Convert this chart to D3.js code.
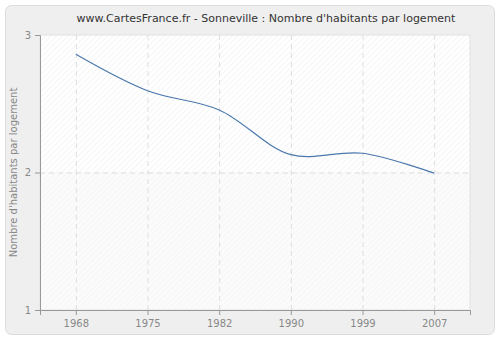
<!DOCTYPE html>
<html>
<head>
<meta charset="utf-8">
<script src="https://cdn.jsdelivr.net/npm/d3@7"></script>
<style>
  body { margin: 0; background: #fff; }
  text { font-family: "DejaVu Sans", Verdana, sans-serif; }
</style>
</head>
<body>
<div id="chart"></div>
<script>
// values
var years = ["1968", "1975", "1982", "1990", "1999", "2007"];
var habitants = [2.86, 2.595, 2.455, 2.13, 2.14, 1.995];
var yTicks = [1, 2, 3];

var W = 500, H = 340;
var margin = { top: 35, right: 30, bottom: 30, left: 40 };
var width = W - margin.left - margin.right,
    height = H - margin.top - margin.bottom;

var svg = d3.select("#chart")
    .append("svg")
    .attr("width", W)
    .attr("height", H);

// hatch patterns for the plot bands
var defs = svg.append("defs");
function hatch(id, bg, fg) {
    var pat = defs.append("pattern")
        .attr("id", id)
        .attr("patternUnits", "userSpaceOnUse")
        .attr("width", 4)
        .attr("height", 4)
        .attr("patternTransform", "rotate(45)");
    pat.append("rect").attr("width", 4).attr("height", 4).attr("fill", bg);
    pat.append("line")
        .attr("x1", 0).attr("y1", 0).attr("x2", 0).attr("y2", 4)
        .attr("stroke", fg)
        .attr("stroke-width", 1);
}
hatch("hatchA", "#ffffff", "#ebebeb");
hatch("hatchB", "#fbfbfb", "#f2f2f2");

// outer frame
svg.append("rect")
    .attr("x", 5.5).attr("y", 5.5)
    .attr("width", W - 11).attr("height", H - 11)
    .attr("rx", 6)
    .attr("fill", "#efefef")
    .attr("stroke", "#dcdcdc");

svg.append("text")
    .attr("x", 266)
    .attr("y", 22)
    .attr("text-anchor", "middle")
    .attr("font-size", 11)
    .attr("fill", "#333")
    .text("www.CartesFrance.fr - Sonneville : Nombre d'habitants par logement");

var g = svg.append("g")
    .attr("transform", "translate(" + margin.left + "," + margin.top + ")");

var x = d3.scalePoint()
    .domain(years)
    .range([0, width])
    .padding(0.5);

var y = d3.scaleLinear()
    .domain([1, 3])
    .range([height, 0]);

// bands between y ticks, alternating shade
g.selectAll(".band")
    .data(yTicks.slice(0, -1))
    .enter()
    .append("rect")
    .attr("x", 0)
    .attr("width", width)
    .attr("y", function(d, i) { return y(yTicks[i + 1]); })
    .attr("height", function(d, i) { return y(d) - y(yTicks[i + 1]); })
    .attr("fill", function(d, i) { return (yTicks.length - 2 - i) % 2 === 0 ? "url(#hatchA)" : "url(#hatchB)"; });

g.append("rect")
    .attr("width", width)
    .attr("height", height)
    .attr("fill", "none")
    .attr("stroke", "#e2e2e2");

// grid
g.selectAll(".vgrid")
    .data(years)
    .enter()
    .append("line")
    .attr("x1", function(d) { return x(d) + 0.5; })
    .attr("x2", function(d) { return x(d) + 0.5; })
    .attr("y1", 0)
    .attr("y2", height)
    .attr("stroke", "#dedede")
    .attr("stroke-dasharray", "5,4");

g.selectAll(".hgrid")
    .data(yTicks.slice(1, -1))
    .enter()
    .append("line")
    .attr("x1", 0)
    .attr("x2", width)
    .attr("y1", function(d) { return y(d) + 0.5; })
    .attr("y2", function(d) { return y(d) + 0.5; })
    .attr("stroke", "#dedede")
    .attr("stroke-dasharray", "5,4");

// axes
var xAxis = g.append("g")
    .attr("transform", "translate(0," + height + ")")
    .call(d3.axisBottom(x).tickSize(5).tickPadding(5));
var yAxis = g.append("g")
    .call(d3.axisLeft(y).tickValues(yTicks).tickFormat(d3.format("d")).tickSize(5).tickPadding(4));

[xAxis, yAxis].forEach(function(a) {
    a.select(".domain").attr("stroke", "#999");
    a.selectAll(".tick line").attr("stroke", "#999");
    a.selectAll(".tick text")
        .attr("fill", "#888")
        .attr("font-size", 10)
        .style("font-family", "DejaVu Sans, Verdana, sans-serif");
});

// line
var pts = years.map(function(d, i) { return [x(d), y(habitants[i])]; });
g.append("path")
    .datum(pts)
    .attr("fill", "none")
    .attr("stroke", "#4a78ad")
    .attr("stroke-width", 1.2)
    .attr("d", d3.line().curve(d3.curveCatmullRom.alpha(0.5)));

svg.append("text")
    .attr("transform", "rotate(-90)")
    .attr("x", -(margin.top + height / 2))
    .attr("y", 17)
    .attr("text-anchor", "middle")
    .attr("font-size", 10)
    .attr("fill", "#888")
    .text("Nombre d'habitants par logement");
</script>
</body>
</html>
